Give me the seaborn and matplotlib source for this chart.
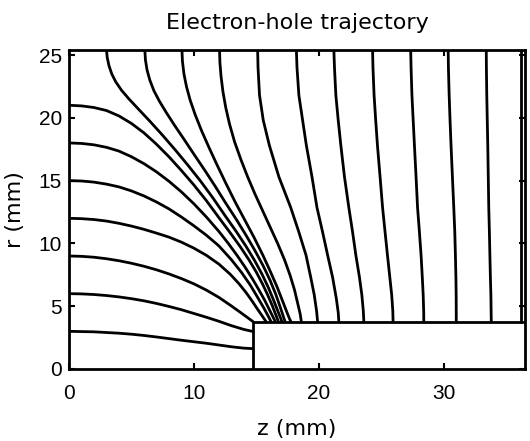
import numpy as np
import pandas as pd
import matplotlib
matplotlib.use("Agg")
import matplotlib.pyplot as plt
import seaborn as sns

# detector geometry (mm): contact face and top surface
contact_z = [14.75, 14.75, 36.5]
contact_r = [0.0, 3.76, 3.76]

# trajectories starting on the left face (z = 0)
l1_z = [0, 2, 4, 5, 6, 7, 8, 9, 10, 11, 12, 13, 14, 14.75]
l1_r = [3.0, 2.96, 2.85, 2.77, 2.67, 2.55, 2.42, 2.29, 2.17, 2.05, 1.91, 1.77, 1.66, 1.62]
l2_z = [0, 1, 2, 3, 4, 5, 6, 7, 8, 9, 10, 11, 12, 13, 14, 14.75]
l2_r = [6.0, 5.98, 5.93, 5.85, 5.74, 5.6, 5.43, 5.22, 4.98, 4.72, 4.42, 4.12, 3.8, 3.45, 3.15, 2.98]
l3_z = [0, 1, 2, 3, 4, 5, 6, 7, 8, 9, 10, 11, 12, 13, 13.8, 14.35, 14.75]
l3_r = [9.0, 8.97, 8.9, 8.78, 8.62, 8.42, 8.18, 7.9, 7.57, 7.2, 6.78, 6.28, 5.7, 5.02, 4.45, 4.05, 3.76]
l4_z = [0, 1, 2, 3, 4, 5, 6, 7, 8, 9, 10, 11, 12, 12.9, 13.6, 14.2, 14.7, 15.1, 15.45, 15.78]
l4_r = [12.0, 11.97, 11.9, 11.78, 11.6, 11.38, 11.12, 10.82, 10.5, 10.1, 9.62, 9.05, 8.35, 7.55, 6.8, 6.05, 5.35, 4.75, 4.25, 3.76]
l5_z = [0, 1, 2, 3, 4, 5, 6, 7, 8, 9, 10, 11, 12, 13, 13.8, 14.5, 15.1, 15.6, 15.95, 16.18]
l5_r = [15.0, 14.97, 14.88, 14.72, 14.5, 14.18, 13.78, 13.3, 12.75, 12.1, 11.4, 10.65, 9.8, 8.7, 7.7, 6.7, 5.7, 4.85, 4.2, 3.76]
l6_z = [0, 1, 2, 3, 4, 5, 6, 7, 8, 9, 10, 11, 12, 12.75, 13.45, 14.1, 14.7, 15.2, 15.65, 16.0, 16.3, 16.52]
l6_r = [18.0, 17.96, 17.85, 17.65, 17.35, 16.9, 16.35, 15.7, 14.95, 14.1, 13.15, 12.1, 10.95, 10.0, 9.05, 8.1, 7.15, 6.3, 5.5, 4.8, 4.2, 3.76]
l7_z = [0, 1, 2, 3, 4, 5, 6, 7, 8, 9, 10, 11, 12, 12.9, 13.7, 14.4, 15.0, 15.5, 15.9, 16.25, 16.5, 16.66, 16.76]
l7_r = [21.0, 20.95, 20.82, 20.58, 20.15, 19.55, 18.8, 17.9, 16.9, 15.8, 14.65, 13.4, 12.05, 10.85, 9.75, 8.7, 7.7, 6.75, 5.9, 5.1, 4.45, 4.05, 3.76]

# trajectories starting on the outer surface (r = 25.4)
t1_z = [3.0, 3.06, 3.2, 3.42, 3.75, 4.2, 4.8, 5.6, 6.5, 7.5, 8.5, 9.5, 10.5, 11.5, 12.5,
        13.35, 14.15, 14.85, 15.45, 15.95, 16.35, 16.7, 16.92, 17.05]
t1_r = [25.4, 24.8, 24.15, 23.5, 22.85, 22.2, 21.5, 20.65, 19.7, 18.6, 17.45, 16.25, 15.0, 13.65, 12.2,
        11.0, 9.8, 8.65, 7.55, 6.5, 5.55, 4.65, 4.1, 3.76]
t2_z = [6.07, 6.12, 6.25, 6.47, 6.8, 7.25, 7.8, 8.45, 9.2, 10.0, 10.85, 11.7, 12.55, 13.4,
        14.2, 14.9, 15.55, 16.1, 16.55, 16.9, 17.15, 17.3]
t2_r = [25.4, 24.6, 23.8, 23.0, 22.15, 21.3, 20.4, 19.4, 18.3, 17.1, 15.85, 14.55, 13.2, 11.9,
        10.6, 9.4, 8.2, 7.05, 5.95, 4.95, 4.2, 3.76]
t3_z = [9.04, 9.08, 9.2, 9.4, 9.7, 10.1, 10.6, 11.2, 11.85, 12.55, 13.3, 14.05, 14.8, 15.5,
        16.1, 16.65, 17.1, 17.45, 17.65, 17.77]
t3_r = [25.4, 24.5, 23.5, 22.5, 21.4, 20.25, 19.0, 17.65, 16.25, 14.8, 13.3, 11.9, 10.5, 9.1,
        7.8, 6.55, 5.4, 4.5, 4.0, 3.76]
t4_z = [12.05, 12.08, 12.17, 12.32, 12.55, 12.85, 13.25, 13.75, 14.3, 14.9, 15.5, 16.1, 16.7,
        17.25, 17.7, 18.05, 18.3, 18.5, 18.6]
t4_r = [25.4, 24.4, 23.3, 22.1, 20.8, 19.5, 18.1, 16.7, 15.3, 13.9, 12.6, 11.3, 10.0,
        8.7, 7.45, 6.3, 5.25, 4.4, 3.76]
t5_z = [15.1, 15.13, 15.25, 15.55, 16.04, 16.8, 17.75, 18.4, 18.97, 19.35, 19.63, 19.82, 19.9]
t5_r = [25.4, 24.0, 21.8, 19.8, 17.8, 15.3, 12.85, 10.9, 9.07, 7.3, 5.9, 4.6, 3.76]
t6_z = [18.2, 18.25, 18.4, 18.7, 19.0, 19.45, 19.85, 20.3, 20.7, 21.1, 21.4, 21.55, 21.6]
t6_r = [25.4, 24.0, 21.8, 19.8, 17.8, 15.3, 12.85, 10.9, 9.07, 7.3, 5.6, 4.5, 3.76]
t7_z = [21.2, 21.25, 21.36, 21.55, 21.76, 22.05, 22.4, 22.7, 22.96, 23.25, 23.44, 23.56, 23.6]
t7_r = [25.4, 24.0, 21.8, 19.8, 17.8, 15.3, 12.85, 10.9, 9.07, 7.3, 5.9, 4.6, 3.76]
t8_z = [24.3, 24.33, 24.42, 24.55, 24.69, 24.9, 25.1, 25.3, 25.49, 25.68, 25.83, 25.92, 25.94]
t8_r = [25.4, 24.0, 21.8, 19.8, 17.8, 15.3, 12.85, 10.9, 9.07, 7.3, 5.9, 4.6, 3.76]
t9_z = [27.35, 27.38, 27.45, 27.55, 27.65, 27.78, 27.9, 28.05, 28.18, 28.28, 28.35, 28.39, 28.4]
t9_r = [25.4, 24.0, 21.8, 19.8, 17.8, 15.3, 12.85, 10.9, 9.07, 7.3, 5.9, 4.6, 3.76]
t10_z = [30.35, 30.37, 30.43, 30.5, 30.58, 30.69, 30.8, 30.88, 30.93, 30.97, 30.99, 31.0]
t10_r = [25.4, 24.0, 21.8, 19.8, 17.8, 15.3, 12.85, 10.9, 9.07, 7.3, 5.9, 3.76]
t11_z = [33.4, 33.41, 33.44, 33.48, 33.52, 33.56, 33.6, 33.65, 33.69, 33.73, 33.77, 33.8]
t11_r = [25.4, 24.0, 21.8, 19.8, 17.8, 15.3, 12.85, 10.9, 9.07, 7.3, 5.9, 3.76]
t12_z = [36.2, 36.2, 36.2]
t12_r = [25.4, 12.85, 3.76]

paths = {
    "l1": (l1_z, l1_r), "l2": (l2_z, l2_r), "l3": (l3_z, l3_r), "l4": (l4_z, l4_r),
    "l5": (l5_z, l5_r), "l6": (l6_z, l6_r), "l7": (l7_z, l7_r),
    "t1": (t1_z, t1_r), "t2": (t2_z, t2_r), "t3": (t3_z, t3_r), "t4": (t4_z, t4_r),
    "t5": (t5_z, t5_r), "t6": (t6_z, t6_r), "t7": (t7_z, t7_r), "t8": (t8_z, t8_r),
    "t9": (t9_z, t9_r), "t10": (t10_z, t10_r), "t11": (t11_z, t11_r), "t12": (t12_z, t12_r),
}
frames = []
for name, (z, r) in paths.items():
    frames.append(pd.DataFrame({"z": z, "r": r, "traj": name}))
df = pd.concat(frames, ignore_index=True)

sns.set_style("ticks")
plt.rcParams["font.family"] = ["DejaVu Sans"]
plt.rcParams["text.color"] = "black"
plt.rcParams["axes.labelcolor"] = "black"
plt.rcParams["xtick.color"] = "black"
plt.rcParams["ytick.color"] = "black"

fig = plt.figure(figsize=(5.3, 4.41), dpi=100)
ax = fig.add_axes([69 / 530, 1 - 369 / 441, (525 - 69) / 530, (369 - 50) / 441])

sns.lineplot(data=df, x="z", y="r", units="traj", estimator=None, sort=False,
             color="black", linewidth=2.0, legend=False, ax=ax)
sns.lineplot(x=contact_z, y=contact_r, sort=False, estimator=None,
             color="black", linewidth=2.0, ax=ax)

ax.set_xlim(0, 36.5)
ax.set_ylim(0, 25.4)
ax.set_xticks([0, 10, 20, 30])
ax.set_yticks([0, 5, 10, 15, 20, 25])
ax.tick_params(direction="in", length=4, width=1.5, top=True, right=True,
               labelsize=15, color="black", labelcolor="black")
ax.tick_params(axis="x", pad=11)
ax.tick_params(axis="y", pad=5)
for lab in ax.get_xticklabels() + ax.get_yticklabels():
    lab.set_family("Liberation Sans")
for s in ax.spines.values():
    s.set_linewidth(2.0)
    s.set_color("black")

ax.set_xlabel("z (mm)", fontsize=16, labelpad=11)
ax.set_ylabel("r (mm)", fontsize=16, labelpad=10)
ax.set_title("Electron-hole trajectory", fontsize=16, pad=15)

fig.savefig("out.png", dpi=100)
